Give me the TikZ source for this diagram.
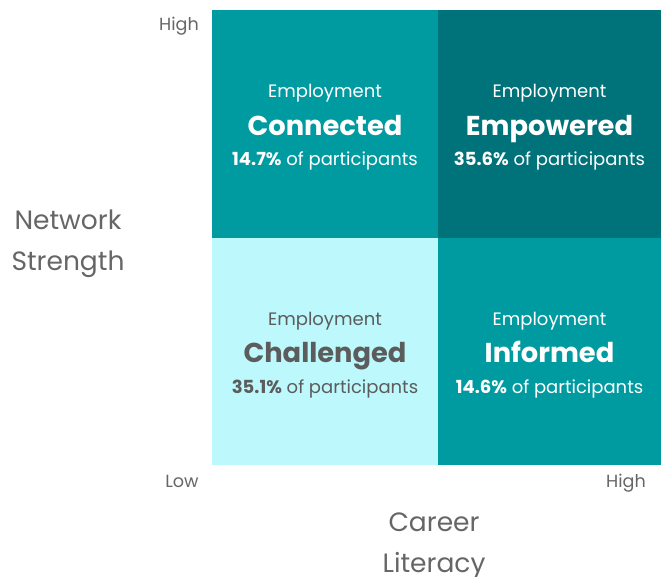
\documentclass[tikz,border=0pt]{standalone}
\usepackage{fontspec}
\setmainfont{Poppins}
\usetikzlibrary{positioning,calc}
\definecolor{tealmid}{HTML}{009BA1}
\definecolor{tealdark}{HTML}{00737A}
\definecolor{tealpale}{HTML}{BCF8FC}
\definecolor{inkgray}{HTML}{5C5C5C}
\definecolor{axisgray}{HTML}{666666}

\begin{document}
\begin{tikzpicture}[x=1bp, y=-1bp,
    quad/.style={rectangle, minimum width=226bp, minimum height=227.5bp, inner sep=0pt, outer sep=0pt},
    sub/.style={anchor=base, font=\fontsize{18bp}{22bp}\selectfont},
    headline/.style={anchor=base, font=\fontsize{27.3bp}{32bp}\selectfont\bfseries},
    axis tick/.style={anchor=base, text=axisgray, font=\fontsize{17.6bp}{21bp}\selectfont},
    axis title/.style={text=axisgray, align=center, font=\fontsize{26.5bp}{41bp}\selectfont}]
    \useasboundingbox (0,0) rectangle (665,577);

    % quadrants
    \node[quad, fill=tealmid] (connected) at (325,123.75) {};
    \node[quad, fill=tealdark, minimum width=223bp, right=0pt of connected] (empowered) {};
    \node[quad, fill=tealpale, below=0pt of connected] (challenged) {};
    \node[quad, fill=tealmid, minimum width=223bp, right=0pt of challenged] (informed) {};

    \node[sub, text=white] (connected-e) at ($(connected.center)+(0,-26)$) {Employment};
    \node[headline, text=white] (connected-t) at ($(connected.center)+(0,11.5)$) {Connected};
    \node[sub, text=white] (connected-p) at ($(connected.center)+(0,42)$) {\textbf{14.7\%} of participants};

    \node[sub, text=white] (empowered-e) at ($(empowered.center)+(0,-26)$) {Employment};
    \node[headline, text=white] (empowered-t) at ($(empowered.center)+(0,11.5)$) {Empowered};
    \node[sub, text=white] (empowered-p) at ($(empowered.center)+(0,42)$) {\textbf{35.6\%} of participants};

    \node[sub, text=inkgray] (challenged-e) at ($(challenged.center)+(0,-26)$) {Employment};
    \node[headline, text=inkgray] (challenged-t) at ($(challenged.center)+(0,11.5)$) {Challenged};
    \node[sub, text=inkgray] (challenged-p) at ($(challenged.center)+(0,42)$) {\textbf{35.1\%} of participants};

    \node[sub, text=white] (informed-e) at ($(informed.center)+(0,-26)$) {Employment};
    \node[headline, text=white] (informed-t) at ($(informed.center)+(0,11.5)$) {Informed};
    \node[sub, text=white] (informed-p) at ($(informed.center)+(0,42)$) {\textbf{14.6\%} of participants};

    % axes
    \node[axis tick] (y-high) at (179,31) {High};
    \node[axis tick] (x-low) at (182,487) {Low};
    \node[axis tick] (x-high) at (626,487) {High};
    \node[axis title] (y-title) at (68,243.5) {Network\\Strength};
    \node[axis title] (x-title) at (434,546) {Career\\Literacy};
\end{tikzpicture}
\end{document}
